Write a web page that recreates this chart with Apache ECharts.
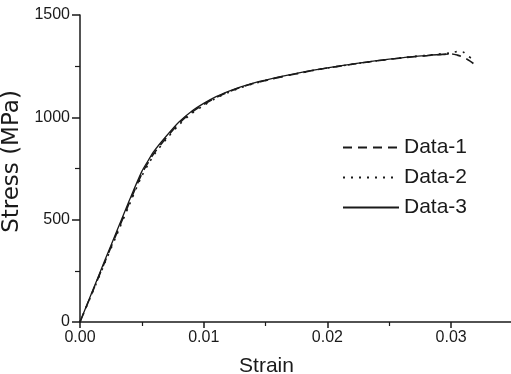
<!DOCTYPE html>
<html>
<head>
<meta charset="utf-8">
<script src="https://cdn.jsdelivr.net/npm/echarts@6/dist/echarts.min.js"></script>
<style>
  html, body { margin: 0; padding: 0; background: #fff; }
  #chart { width: 511px; height: 374px; }
</style>
</head>
<body>
<div id="chart"></div>
<script>
// strain / stress readings for the three curves
const strain1 = [0, 0.001, 0.002, 0.003, 0.004, 0.005, 0.0055, 0.006, 0.007, 0.008, 0.009, 0.010, 0.011, 0.012, 0.013, 0.014, 0.015, 0.016, 0.017, 0.018, 0.019, 0.020, 0.022, 0.024, 0.026, 0.028, 0.029, 0.030, 0.0305, 0.031, 0.0315, 0.0318];
const stress1 = [0, 146, 292, 438, 584, 724, 778, 826, 902, 970, 1023, 1063, 1097, 1124, 1147, 1165, 1180, 1194, 1207, 1219, 1231, 1241, 1259, 1276, 1290, 1301, 1306, 1310, 1304, 1293, 1276, 1263];

const strain2 = [0, 0.001, 0.002, 0.003, 0.004, 0.005, 0.0055, 0.006, 0.007, 0.008, 0.009, 0.010, 0.011, 0.012, 0.013, 0.014, 0.015, 0.016, 0.017, 0.018, 0.019, 0.020, 0.022, 0.024, 0.026, 0.028, 0.029, 0.030, 0.0305, 0.031, 0.0313, 0.0316];
const stress2 = [0, 143, 287, 430, 574, 714, 768, 818, 895, 963, 1017, 1058, 1094, 1121, 1145, 1164, 1180, 1194, 1207, 1219, 1231, 1241, 1259, 1276, 1291, 1303, 1309, 1315, 1321, 1318, 1302, 1290];

const strain3 = [0, 0.001, 0.002, 0.003, 0.004, 0.005, 0.0055, 0.006, 0.007, 0.008, 0.009, 0.010, 0.011, 0.012, 0.013, 0.014, 0.015, 0.016, 0.017, 0.018, 0.019, 0.020, 0.022, 0.024, 0.026, 0.028, 0.029, 0.0298];
const stress3 = [0, 150, 300, 448, 596, 736, 788, 836, 910, 977, 1029, 1068, 1101, 1127, 1149, 1167, 1182, 1196, 1209, 1221, 1232, 1242, 1260, 1277, 1291, 1302, 1307, 1309];

const seriesNames = ['Data-1', 'Data-2', 'Data-3'];
const lineTypes = [[9, 6], [2, 6], 'solid'];

const xTicks = { min: 0, max: 0.035, interval: 0.01 };
const yTicks = { min: 0, max: 1500, interval: 500 };

const pairs = (xs, ys) => xs.map((x, i) => [x, ys[i]]);
const curves = [pairs(strain1, stress1), pairs(strain2, stress2), pairs(strain3, stress3)];

const ink = '#1a1a1a';
const font = 'Liberation Sans, Arial, sans-serif';

const chart = echarts.init(document.getElementById('chart'), null, { renderer: 'canvas' });
chart.setOption({
  animation: false,
  backgroundColor: '#fff',
  grid: { left: 80, top: 15, right: -2, bottom: 52, containLabel: false, outerBoundsMode: 'none' },
  legend: {
    orient: 'vertical', left: 342, top: 137, padding: 0,
    itemWidth: 56, itemHeight: 14, itemGap: 9,
    itemStyle: { opacity: 0 },
    textStyle: { color: ink, fontSize: 21, fontFamily: font },
    data: seriesNames
  },
  xAxis: {
    type: 'value', min: xTicks.min, max: xTicks.max, interval: xTicks.interval,
    name: 'Strain', nameLocation: 'middle', nameGap: 34,
    nameTextStyle: { color: ink, fontSize: 21, fontFamily: font, padding: [0, 60, 0, 0] },
    axisLine: { show: true, lineStyle: { color: ink, width: 1.5 } },
    axisTick: { show: true, length: 6, lineStyle: { color: ink, width: 1.5 } },
    minorTick: { show: true, splitNumber: 2, length: 4, lineStyle: { color: ink, width: 1.2 } },
    axisLabel: {
      color: ink, fontSize: 16, fontFamily: font, margin: 8, showMaxLabel: false,
      formatter: v => (Math.abs(v * 100 - Math.round(v * 100)) < 1e-6 ? v.toFixed(2) : '')
    },
    splitLine: { show: false }
  },
  yAxis: {
    type: 'value', min: yTicks.min, max: yTicks.max, interval: yTicks.interval,
    name: 'Stress (MPa)', nameLocation: 'middle', nameGap: 42,
    nameTextStyle: { color: ink, fontSize: 23, fontFamily: 'DejaVu Sans, sans-serif', padding: [0, 0, 0, 14] },
    axisLine: { show: true, lineStyle: { color: ink, width: 1.5 } },
    axisTick: { show: true, length: 8, lineStyle: { color: ink, width: 1.5 } },
    minorTick: { show: true, splitNumber: 2, length: 5, lineStyle: { color: ink, width: 1.2 } },
    axisLabel: { color: ink, fontSize: 16, fontFamily: font, margin: 10, formatter: v => String(v) },
    splitLine: { show: false }
  },
  series: curves.map((data, i) => ({
    name: seriesNames[i],
    type: 'line',
    data: data,
    showSymbol: false,
    symbol: 'none',
    smooth: 0.3,
    z: 3 - i,
    color: ink,
    lineStyle: { color: ink, width: i === 2 ? 1.3 : 1.6, type: lineTypes[i] }
  }))
});
</script>
</body>
</html>
